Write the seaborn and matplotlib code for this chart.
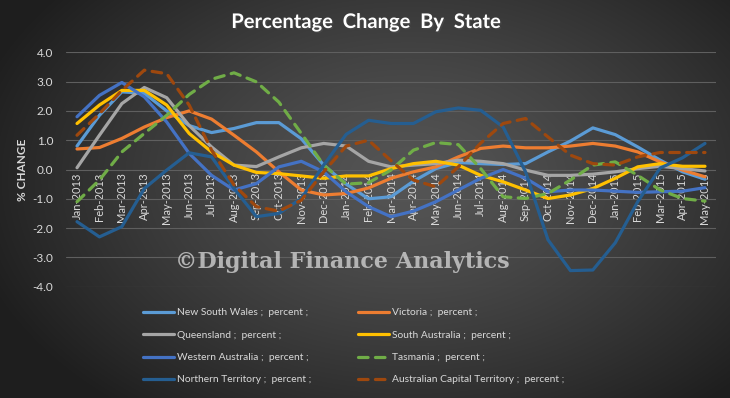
import numpy as np
import pandas as pd
import matplotlib
matplotlib.use("Agg")
import matplotlib.pyplot as plt
import seaborn as sns
from matplotlib import patheffects as pe

months = ["Jan-2013", "Feb-2013", "Mar-2013", "Apr-2013", "May-2013", "Jun-2013",
          "Jul-2013", "Aug-2013", "Sep-2013", "Oct-2013", "Nov-2013", "Dec-2013",
          "Jan-2014", "Feb-2014", "Mar-2014", "Apr-2014", "May-2014", "Jun-2014",
          "Jul-2014", "Aug-2014", "Sep-2014", "Oct-2014", "Nov-2014", "Dec-2014",
          "Jan-2015", "Feb-2015", "Mar-2015", "Apr-2015", "May-2015"]

nsw = [0.8, 1.85, 2.65, 2.6, 2.0, 1.5, 1.26, 1.4, 1.6, 1.6, 1.05, 0.15, -0.5, -1.0, -0.93,
       -0.4, 0.03, 0.24, 0.2, 0.17, 0.2, 0.6, 0.97, 1.42, 1.19, 0.77, 0.32, -0.08, -0.33]
vic = [0.7, 0.75, 1.06, 1.45, 1.77, 2.0, 1.72, 1.17, 0.6, -0.08, -0.7, -0.87, -0.82, -0.63, -0.3,
       -0.08, 0.09, 0.43, 0.72, 0.8, 0.74, 0.74, 0.8, 0.89, 0.8, 0.6, 0.26, -0.02, -0.25]
qld = [0.06, 1.17, 2.25, 2.8, 2.45, 1.5, 0.77, 0.15, 0.1, 0.43, 0.74, 0.89, 0.8, 0.28, 0.09,
       0.15, 0.2, 0.32, 0.28, 0.2, -0.02, -0.2, -0.2, -0.16, -0.08, 0.03, 0.11, 0.03, -0.05]
sa = [1.57, 2.2, 2.7, 2.7, 2.2, 1.23, 0.6, 0.15, -0.1, -0.14, -0.22, -0.3, -0.22, -0.22, 0.03,
      0.2, 0.28, 0.15, -0.2, -0.42, -0.7, -0.99, -0.87, -0.65, -0.3, 0.09, 0.2, 0.11, 0.11]
wa = [1.8, 2.53, 2.97, 2.48, 1.62, 0.55, -0.2, -0.7, -0.48, 0.09, 0.28, -0.08, -0.76, -1.27, -1.61,
      -1.42, -1.1, -0.7, -0.3, 0.0, -0.3, -0.76, -0.7, -0.7, -0.74, -0.78, -0.76, -0.74, -0.62]
tas = [-1.1, -0.36, 0.6, 1.23, 1.85, 2.56, 3.08, 3.3, 2.99, 2.3, 1.23, 0.15, -0.5, -0.45, -0.02,
       0.66, 0.92, 0.85, 0.03, -0.93, -0.99, -0.82, -0.36, 0.15, 0.26, -0.2, -0.7, -0.99, -1.08]
nt = [-1.78, -2.3, -1.95, -0.65, -0.02, 0.57, 0.43, -0.65, -1.61, -1.5, -0.99, 0.15, 1.2, 1.68, 1.57,
      1.57, 1.97, 2.1, 2.02, 1.45, -0.08, -2.4, -3.45, -3.43, -2.5, -1.1, 0.05, 0.4, 0.89]
act = [1.17, 1.9, 2.7, 3.39, 3.27, 2.2, 0.66, -0.53, -1.27, -1.42, -1.05, -0.08, 0.8, 1.0, 0.3,
       -0.36, -0.59, 0.09, 0.9, 1.57, 1.74, 1.11, 0.49, 0.2, 0.15, 0.43, 0.58, 0.58, 0.58]

states = ["New South Wales", "Victoria", "Queensland", "South Australia",
          "Western Australia", "Tasmania", "Northern Territory", "Australian Capital Territory"]
series = [nsw, vic, qld, sa, wa, tas, nt, act]
colors = ["#5B9BD5", "#ED7D31", "#A5A5A5", "#FFC000", "#4472C4", "#70AD47", "#255E91", "#9E480E"]
dashed = [False, False, False, False, False, True, False, True]

yticks = [4.0, 3.0, 2.0, 1.0, 0.0, -1.0, -2.0, -3.0, -4.0]

rows = []
for st, vals in zip(states, series):
    for i, v in enumerate(vals):
        rows.append({"state": st, "idx": i, "value": v})
df = pd.DataFrame(rows)

sns.set_style("white")
plt.rcParams["font.family"] = ["Lato", "DejaVu Sans"]

fig = plt.figure(figsize=(7.3, 3.98), dpi=100)

# background gradient
bg = fig.add_axes([0, 0, 1, 1], zorder=-10)
W, H = 730, 398
xx, yy = np.meshgrid(np.linspace(0, 1, W), np.linspace(0, 1, H))
r = np.sqrt(((xx - 0.56) / 0.62) ** 2 + ((yy - 0.55) / 0.75) ** 2)
r = np.clip(r, 0, 1)
c0 = np.array([0x55, 0x55, 0x55]) / 255
c1 = np.array([0x1e, 0x1e, 0x1e]) / 255
img = c0[None, None, :] + (c1 - c0)[None, None, :] * (r[..., None] ** 1.3)
bg.imshow(img, aspect="auto", extent=[0, 1, 0, 1], origin="lower")
bg.axis("off")

left = 65.8 / W
right = 716.2 / W
top = 1 - 52.3 / H
bottom = 1 - 286.7 / H
ax = fig.add_axes([left, bottom, right - left, top - bottom])
ax.set_facecolor("none")

dash_map = {st: ((3, 2.3) if d else "") for st, d in zip(states, dashed)}
pal = dict(zip(states, colors))
sns.lineplot(data=df, x="idx", y="value", hue="state", style="state",
             hue_order=states, style_order=states, palette=pal, dashes=dash_map,
             linewidth=2.3, ax=ax, legend=True)
for line in ax.lines:
    line.set_dash_capstyle("round")
    line.set_solid_capstyle("round")

ax.spines["bottom"].set_position(("data", 0))
for s in ax.spines.values():
    s.set_visible(False)
ax.set_xlim(-0.5, len(months) - 0.5)
ax.set_ylim(-4.0, 4.0)
ax.set_yticks(yticks)
ax.set_yticklabels([f"{v:.1f}" for v in yticks], color="#D9D9D9", fontsize=8.5)
ax.set_xticks(range(len(months)))
ax.set_xticklabels(months, color="#D9D9D9", fontsize=8)
ax.tick_params(axis="both", length=0)
ax.tick_params(axis="y", pad=9)
ax.tick_params(axis="x", pad=2)
plt.setp(ax.get_xticklabels(), rotation=90, va="top", ha="center")
ax.grid(axis="y", color="#5f5f5f", linewidth=0.8)
ax.set_axisbelow(True)
ax.set_xlabel("")
ax.set_ylabel("% CHANGE", color="#D9D9D9", fontsize=8.5, fontweight="bold", labelpad=3)

handles, labels = ax.get_legend_handles_labels()
ax.get_legend().remove()
hmap = dict(zip(labels, handles))
order = [states[0], states[2], states[4], states[6], states[1], states[3], states[5], states[7]]
leg = fig.legend([hmap[s] for s in order], [f"{s} ;  percent ;" for s in order],
                 ncol=2, loc="upper left", bbox_to_anchor=(134 / W, 1 - 299 / H),
                 frameon=False, fontsize=7.4, labelcolor="#D9D9D9", handlelength=3.0,
                 handletextpad=0.25, columnspacing=4.6, labelspacing=1.28)

fig.text(366 / W, 1 - 22 / H, "Percentage  Change  By  State", ha="center", va="center",
         color="white", fontsize=14.5, fontweight="bold",
         path_effects=[pe.withSimplePatchShadow(offset=(1, -1), alpha=0.6)])

fig.text(342 / W, 1 - 262 / H, "©Digital Finance Analytics", ha="center", va="center",
         color="#C8C8C8", alpha=0.85, fontsize=16, fontweight="bold",
         family=["DejaVu Serif"], zorder=5)

fig.savefig("out.png", dpi=100, facecolor="#2a2a2a")
